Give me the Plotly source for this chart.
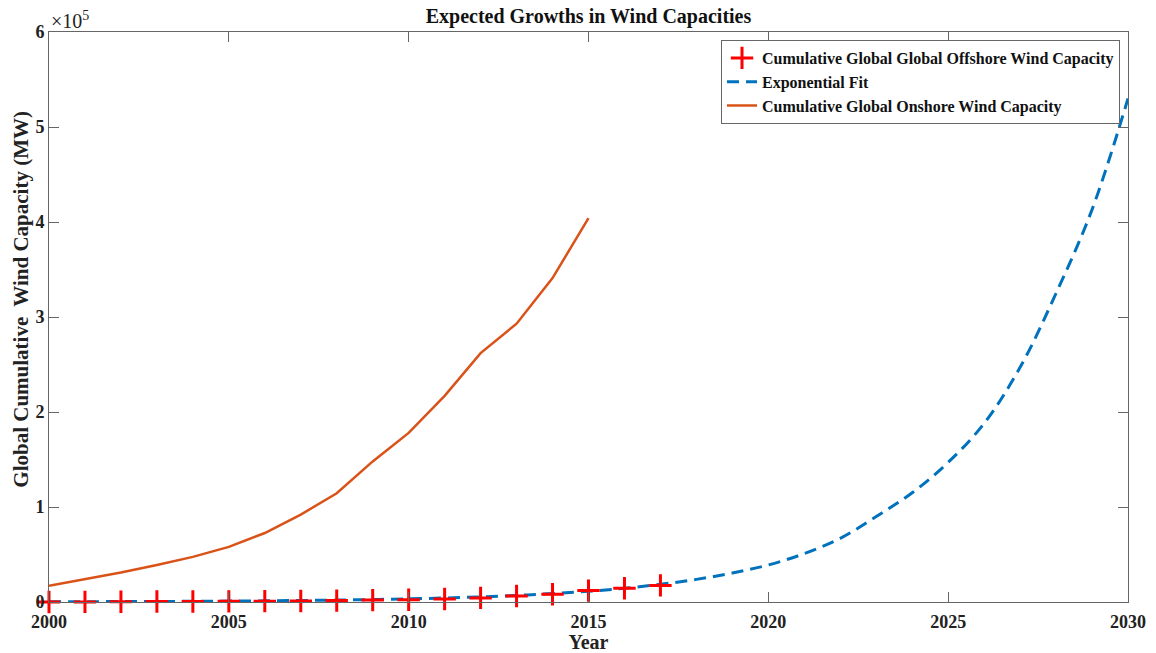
import plotly.graph_objects as go

years_off = list(range(2000, 2018))
offshore_mw = [70, 100, 250, 550, 600, 700, 900, 1100, 1500, 2000,
               2400, 3200, 4300, 6300, 8100, 12000, 14400, 17500]

years_fit = list(range(2000, 2031))
fit_mw = [270, 350, 450, 580, 740, 950, 1200, 1600, 2000, 2600,
          3300, 4200, 5400, 6900, 8900, 11300, 14500, 18600, 23800, 30500,
          39000, 51000, 67000, 90000, 115000, 147000, 188000, 247000, 325000, 413000,
          530000]

years_on = list(range(2000, 2016))
onshore_mw = [17000, 24000, 31000, 39000, 47500, 58000, 72600, 92000, 114500, 148000,
              178000, 217000, 262000, 293000, 341000, 404000]

x_ticks = [2000, 2005, 2010, 2015, 2020, 2025, 2030]
y_ticks = [0, 100000, 200000, 300000, 400000, 500000, 600000]
y_tick_text = ["0", "1", "2", "3", "4", "5", "6"]

FONT = "Liberation Serif"

fig = go.Figure()
fig.add_trace(go.Scatter(
    x=years_fit, y=fit_mw, mode="lines", line_shape="spline",
    name="<b>Exponential Fit</b>", legendrank=2,
    line=dict(color="#0072BD", width=3, dash="12px,7px"),
))
fig.add_trace(go.Scatter(
    x=years_on, y=onshore_mw, mode="lines",
    name="<b>Cumulative Global Onshore Wind Capacity</b>", legendrank=3,
    line=dict(color="#D95319", width=2.5),
))
fig.add_trace(go.Scatter(
    x=years_off, y=offshore_mw, mode="markers", cliponaxis=False,
    name="<b>Cumulative Global Global Offshore Wind Capacity</b>", legendrank=1,
    marker=dict(symbol="cross-thin", size=16, line=dict(color="#FF0000", width=3), color="#FF0000"),
))

axis_common = dict(
    showgrid=False, zeroline=False, showline=True, linecolor="#666666", linewidth=1,
    mirror="ticks", ticks="inside", ticklen=10, tickcolor="#666666",
    tickfont=dict(family=FONT, size=18, color="#222222"), automargin=False,
)

fig.update_layout(
    width=1156, height=653,
    margin=dict(l=49, r=28, t=32, b=51),
    paper_bgcolor="white", plot_bgcolor="white",
    title=dict(text="<b>Expected Growths in Wind Capacities</b>", x=0.5, xanchor="center",
               xref="paper", y=1 - 16 / 653, yanchor="middle",
               font=dict(family=FONT, size=20, color="#111111")),
    xaxis=dict(range=[2000, 2030], tickvals=x_ticks,
               ticktext=[f"<b>{t}</b>" for t in x_ticks], ticklabelstandoff=3,
               title=dict(text="<b>Year</b>", font=dict(family=FONT, size=20, color="#222222"), standoff=5),
               **axis_common),
    yaxis=dict(range=[0, 600000], tickvals=y_ticks, ticktext=[f"<b>{t}</b>" for t in y_tick_text],
               **axis_common),
    legend=dict(x=0.9926, y=0.986, xanchor="right", yanchor="top",
                bgcolor="white", bordercolor="#666666", borderwidth=1,
                font=dict(family=FONT, size=16, color="#111111"),
                tracegroupgap=0, itemwidth=30),
    showlegend=True,
)

# y-axis title (placed as in the reference, slightly above the plot-area centre)
fig.add_annotation(
    text="<b>Global Cumulative  Wind Capacity (MW)</b>", textangle=-90,
    xref="paper", yref="paper", x=-0.026, y=0.532, xanchor="center", yanchor="middle",
    showarrow=False, font=dict(family=FONT, size=21, color="#222222"),
)

fig.add_annotation(
    text="×10<sup>5</sup>", xref="paper", yref="paper", x=0, y=1, xanchor="left", yanchor="bottom",
    showarrow=False, font=dict(family=FONT, size=20, color="#222222"), yshift=-2,
)

fig.write_html("out.html")
